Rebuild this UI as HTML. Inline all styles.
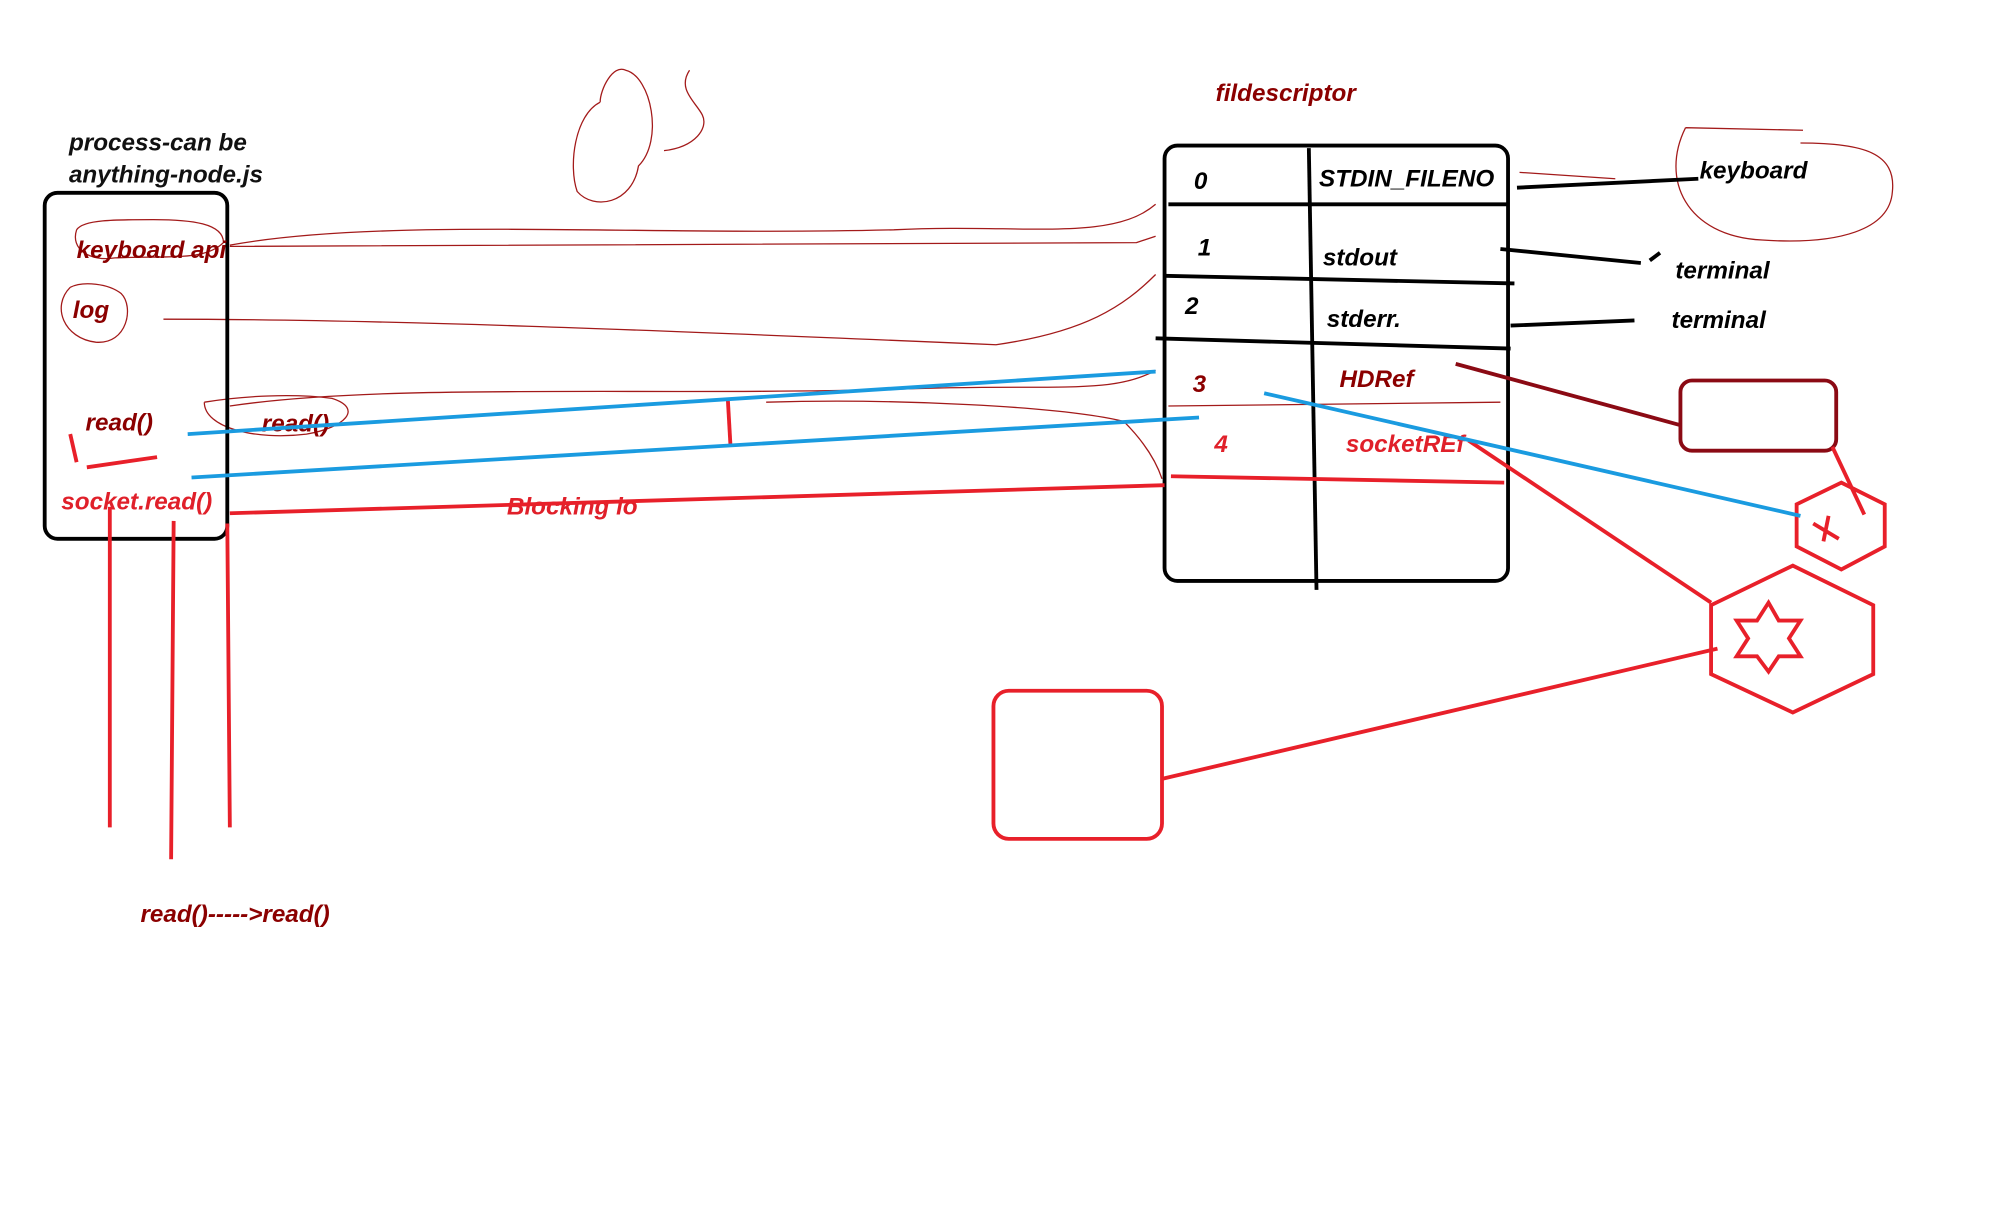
<!DOCTYPE html>
<html><head><meta charset="utf-8"><style>
html,body{margin:0;padding:0;background:#fff;}
svg{display:block;}
text{font-family:"Liberation Sans",sans-serif;font-weight:bold;font-style:italic;font-size:19px;}
</style></head><body>
<svg width="1992" height="1227" viewBox="0 0 1560 961" preserveAspectRatio="none" xmlns="http://www.w3.org/2000/svg">
<rect width="1560" height="961" fill="#fff"/>
<!-- thin dark red hand lines -->
<g fill="none" stroke="#a31a1a" stroke-width="1">
<path d="M470 80 C450 90 445 130 452 150 C465 165 495 160 500 130 C520 110 510 60 490 55 C480 50 470 70 470 80"/>
<path d="M540 55 C530 70 545 80 550 90 C555 100 545 115 520 118"/>
<path d="M180 192 C300 170 500 185 700 180 C800 175 870 190 905 160 M180 193 L890 190 L905 185"/>
<path d="M128 250 C300 250 500 258 780 270 C850 260 880 240 905 215"/>
<path d="M180 318 C300 300 500 310 700 305 C820 300 870 310 905 290"/>
<path d="M600 315 C700 312 830 318 880 330 C895 345 905 360 910 375"/>
<path d="M60 180 C55 195 70 205 90 202 C130 200 160 205 175 190 C175 175 150 172 120 172 C90 172 65 172 60 180"/>
<path d="M55 225 C40 240 50 265 75 268 C100 270 105 240 95 230 C85 222 65 220 55 225"/>
<path d="M160 315 C160 335 200 345 240 340 C270 335 285 320 260 312 C230 308 190 310 160 315"/>
<path d="M1320 100 C1300 140 1320 185 1380 188 C1440 192 1480 180 1482 150 C1485 120 1460 112 1410 112 M1320 100 L1412 102"/>
<path d="M1190 135 L1265 140"/>
<path d="M915 318 L1175 315"/>
</g>
<!-- process box -->
<rect x="35" y="151" width="143" height="271" rx="10" fill="none" stroke="#000" stroke-width="3"/>
<text x="54" y="118" fill="#111" font-size="19">process-can be</text>
<text x="54" y="143" fill="#111" font-size="19">anything-node.js</text>
<text x="60" y="202" fill="#8b0000">keyboard api</text>
<text x="57" y="249" fill="#8b0000">log</text>
<text x="67" y="337" fill="#8b0000">read()</text>
<text x="205" y="338" fill="#8b0000">read()</text>
<text x="48" y="399" fill="#e0202a">socket.read()</text>
<text x="397" y="403" fill="#e0202a">Blocking io</text>
<text x="110" y="722" fill="#8b0000">read()-----&gt;read()</text>
<text x="952" y="79" fill="#8b0000">fildescriptor</text>
<!-- fd table -->
<rect x="912" y="114" width="269" height="341" rx="10" fill="none" stroke="#000" stroke-width="3"/>
<g stroke="#000" stroke-width="3" fill="none">
<path d="M1025 116 L1031 462"/>
<path d="M915 160 L1180 160"/>
<path d="M912 216 L1186 222"/>
<path d="M905 265 L1183 273"/>
<path d="M1188 147 L1330 140"/>
<path d="M1175 195 L1285 206 M1292 204 L1300 198"/>
<path d="M1183 255 L1280 251"/>
</g>
<text x="935" y="148" fill="#000">0</text>
<text x="1033" y="146" fill="#000">STDIN_FILENO</text>
<text x="938" y="200" fill="#000">1</text>
<text x="1036" y="208" fill="#000">stdout</text>
<text x="928" y="246" fill="#000">2</text>
<text x="1039" y="256" fill="#000">stderr.</text>
<text x="1331" y="140" fill="#000">keyboard</text>
<text x="1312" y="218" fill="#000">terminal</text>
<text x="1309" y="257" fill="#000">terminal</text>
<text x="934" y="307" fill="#8b0000">3</text>
<text x="1049" y="303" fill="#8b0000">HDRef</text>
<text x="951" y="354" fill="#e0202a">4</text>
<text x="1054" y="354" fill="#e0202a">socketREf</text>
<!-- dark red box -->
<rect x="1316" y="298" width="122" height="55" rx="9" fill="none" stroke="#8b0a14" stroke-width="3"/>
<path d="M1140 285 L1316 333" stroke="#8b0a14" stroke-width="3"/>
<!-- red shapes -->
<g stroke="#e8202a" stroke-width="3" fill="none">
<path d="M1435 350 L1460 403"/>
<polygon points="1442,378 1476,395 1476,428 1442,446 1407,428 1407,395"/>
<path d="M1420 410 L1440 422 M1432 404 L1428 424"/>
<polygon points="1404,443 1467,474 1467,528 1404,558 1340,528 1340,474"/>
<polygon points="1385,472 1393,486 1410,486 1401,500 1410,514 1393,514 1385,526 1376,514 1360,514 1369,500 1360,486 1376,486"/>
<path d="M1150 345 L1340 472"/>
<path d="M910 610 L1345 508"/>
<rect x="778" y="541" width="132" height="116" rx="12"/>
<path d="M180 402 L912 380"/>
<path d="M917 373 L1178 378"/>
<path d="M86 397 L86 648 M136 408 L134 673 M178 410 L180 648"/>
<path d="M55 340 L60 362 M68 366 L123 358"/>
<path d="M570 313 L572 348"/>
</g>
<!-- blue lines -->
<g stroke="#1a9be0" stroke-width="3" fill="none">
<path d="M147 340 L905 291"/>
<path d="M150 374 L939 327"/>
<path d="M990 308 L1410 404"/>
</g>
</svg>
</body></html>
